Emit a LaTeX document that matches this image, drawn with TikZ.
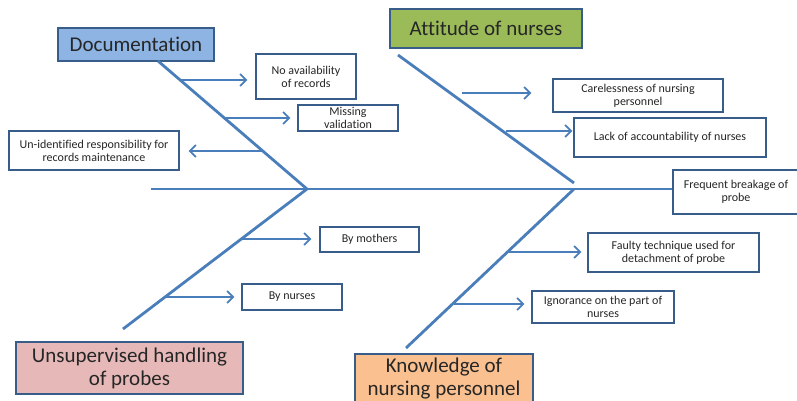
\documentclass[tikz,border=0pt]{standalone}
\usepackage{fontspec}
\setmainfont{Carlito}[Ligatures={NoCommon}]
\usetikzlibrary{arrows.meta}
\definecolor{lineblue}{HTML}{4A7EBB}
\definecolor{edgeblue}{HTML}{385D8A}
\definecolor{docfill}{HTML}{8DB4E2}
\definecolor{attfill}{HTML}{9BBB59}
\definecolor{unsfill}{HTML}{E6B9B8}
\definecolor{knofill}{HTML}{FAC090}
\definecolor{txt}{HTML}{262626}
\tikzset{
  head/.style={draw=edgeblue, line width=1.6pt, inner sep=0pt, align=center, text=txt,
    font=\fontsize{21}{23}\selectfont},
  cause/.style={draw=edgeblue, line width=1.4pt, inner sep=0pt, align=center, text=txt, fill=white,
    font=\fontsize{12}{13}\selectfont},
  bone/.style={draw=lineblue, line width=2.8pt},
  arr/.style={draw=lineblue, line width=1.8pt, -{Straight Barb[length=6pt,width=12pt,line width=1.8pt]}}
}
\begin{document}
\begin{tikzpicture}[x=1pt,y=-1pt]
\useasboundingbox (0,0) rectangle (797,401);
% category boxes
\node[head, fill=docfill, minimum width=156, minimum height=33] (doc) at (136,44.5) {Documentation};
\node[head, fill=attfill, minimum width=192, minimum height=39] (att) at (486,28.5) {Attitude of nurses};
\node[head, fill=unsfill, minimum width=227, minimum height=52] (uns) at (129.5,368) {Unsupervised handling\\of probes};
\node[head, fill=knofill, minimum width=178, minimum height=50] (kno) at (444,379) {Knowledge of\\nursing personnel};
% cause boxes
\node[cause, minimum width=100, minimum height=45] (avail) at (306,76.5) {No availability\\of records};
\node[cause, minimum width=100, minimum height=26] (miss) at (348,118) {Missing\\validation};
\node[cause, minimum width=170, minimum height=39] (unid) at (94,150.5) {Un-identified responsibility for\\records maintenance};
\node[cause, minimum width=170, minimum height=33] (care) at (638,95.5) {Carelessness of nursing\\personnel};
\node[cause, minimum width=192, minimum height=39] (lack) at (670,137.5) {Lack of accountability of nurses};
\node[cause, minimum width=126, minimum height=44] (freq) at (736,192) {Frequent breakage of\\probe};
\node[cause, minimum width=99, minimum height=25] (moth) at (369.5,239.5) {By mothers};
\node[cause, minimum width=100, minimum height=26] (nurs) at (292,297) {By nurses};
\node[cause, minimum width=171, minimum height=39] (faul) at (673.5,252.5) {Faulty technique used for\\detachment of probe};
\node[cause, minimum width=142, minimum height=32] (igno) at (603,307) {Ignorance on the part of\\nurses};
% bone coordinates
\coordinate (spineL) at (151,189);
\coordinate (j1) at (307,189);
\coordinate (j2) at (574,189);
\coordinate (docTop) at (158,61);
\coordinate (unsEnd) at (123,329);
\coordinate (attTop) at (398,55);
\coordinate (attEnd) at (574,183);
\coordinate (knoEnd) at (406,348);
% bones
\draw[bone] (spineL) -- (spineL -| freq.west);
\draw[bone] (docTop) -- (j1) -- (unsEnd);
\draw[bone] (attTop) -- (attEnd);
\draw[bone] (j2) -- (knoEnd);
% branch starts
\coordinate (b1) at (180,80);
\coordinate (b2) at (224,118);
\coordinate (b3) at (262,151);
\coordinate (b4) at (462,93);
\coordinate (b5) at (506,131);
\coordinate (b6) at (241,239);
\coordinate (b7) at (166,297);
\coordinate (b8) at (509,252);
\coordinate (b9) at (454,304);
% branches
\draw[arr, shorten >=8pt] (b1) -- (b1 -| avail.west);
\draw[arr, shorten >=7pt] (b2) -- (b2 -| miss.west);
\draw[arr, shorten >=9pt] (b3) -- (b3 -| unid.east);
\draw[arr, shorten >=21pt] (b4) -- (b4 -| care.west);
\draw[arr, shorten >=1pt] (b5) -- (b5 -| lack.west);
\draw[arr, shorten >=8pt] (b6) -- (b6 -| moth.west);
\draw[arr, shorten >=7pt] (b7) -- (b7 -| nurs.west);
\draw[arr, shorten >=6pt] (b8) -- (b8 -| faul.west);
\draw[arr, shorten >=7pt] (b9) -- (b9 -| igno.west);
\end{tikzpicture}
\end{document}
